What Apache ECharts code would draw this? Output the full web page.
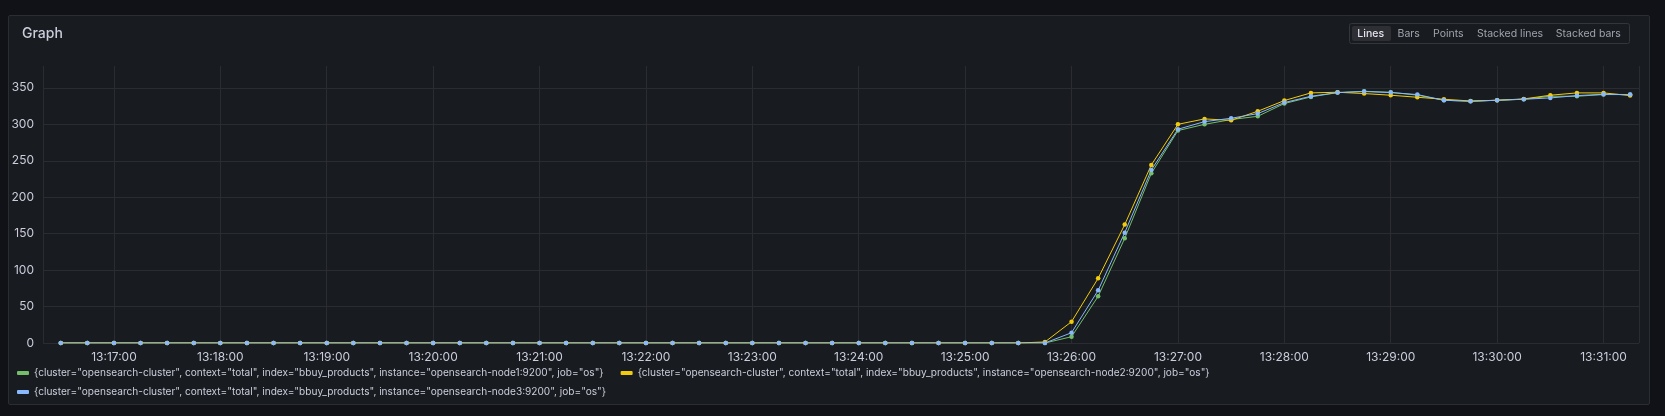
<!DOCTYPE html>
<html>
<head>
<meta charset="utf-8">
<script src="https://cdn.jsdelivr.net/npm/echarts@6/dist/echarts.min.js"></script>
<style>
  html, body { margin: 0; padding: 0; background: #111217; width: 1665px; height: 416px; overflow: hidden; }
  #panel { position: absolute; left: 8px; top: 15px; width: 1642px; height: 390px; background: #181b1f; border: 1px solid #2b2d33; border-radius: 2px; box-sizing: border-box; }
  #chart { position: absolute; left: 0; top: 0; width: 1665px; height: 416px; }
</style>
</head>
<body>
<div id="panel"></div>
<div id="chart"></div>
<script>
const panelTitle = 'Graph';
const viewModes = ['Lines', 'Bars', 'Points', 'Stacked lines', 'Stacked bars'];
const seriesNames = [
  '{cluster="opensearch-cluster", context="total", index="bbuy_products", instance="opensearch-node1:9200", job="os"}',
  '{cluster="opensearch-cluster", context="total", index="bbuy_products", instance="opensearch-node2:9200", job="os"}',
  '{cluster="opensearch-cluster", context="total", index="bbuy_products", instance="opensearch-node3:9200", job="os"}'
];
const times = [
  '13:16:30','13:16:45','13:17:00','13:17:15','13:17:30','13:17:45','13:18:00','13:18:15','13:18:30','13:18:45',
  '13:19:00','13:19:15','13:19:30','13:19:45','13:20:00','13:20:15','13:20:30','13:20:45','13:21:00','13:21:15',
  '13:21:30','13:21:45','13:22:00','13:22:15','13:22:30','13:22:45','13:23:00','13:23:15','13:23:30','13:23:45',
  '13:24:00','13:24:15','13:24:30','13:24:45','13:25:00','13:25:15','13:25:30','13:25:45','13:26:00','13:26:15',
  '13:26:30','13:26:45','13:27:00','13:27:15','13:27:30','13:27:45','13:28:00','13:28:15','13:28:30','13:28:45',
  '13:29:00','13:29:15','13:29:30','13:29:45','13:30:00','13:30:15','13:30:30','13:30:45','13:31:00','13:31:15'
];
const node1 = [
  0,0,0,0,0,0,0,0,0,0, 0,0,0,0,0,0,0,0,0,0, 0,0,0,0,0,0,0,0,0,0, 0,0,0,0,0,0,0,
  0,8.6,64,143.6,232.8,291.4,300,306.5,311,328.5,337.6,343.5,345.3,344,340,333,331.6,333,334.4,338.5,338.5,340.8,340.8
];
const node2 = [
  0,0,0,0,0,0,0,0,0,0, 0,0,0,0,0,0,0,0,0,0, 0,0,0,0,0,0,0,0,0,0, 0,0,0,0,0,0,0,
  1.4,29.2,88.7,162.4,244.3,300,307.4,305.5,317.9,332.6,343.1,344,342.2,339.9,337.1,334.4,332,333,334.8,339.9,343.1,343.1,339.4
];
const node3 = [
  0,0,0,0,0,0,0,0,0,0, 0,0,0,0,0,0,0,0,0,0, 0,0,0,0,0,0,0,0,0,0, 0,0,0,0,0,0,0,
  0,14.1,72.2,151.4,237.4,293.2,303.7,308.3,314.7,329.8,338.5,343.5,345,343.5,340.8,333,331.6,333,334.4,336.2,339.4,341.2,340.8
];
const xRange = ['13:16:20', '13:31:20'];
const yTicks = [0, 50, 100, 150, 200, 250, 300, 350];
const colors = ['#73BF69', '#F2CC0C', '#8AB8FF'];

function ts(s) {
  const p = s.split(':').map(Number);
  return new Date(2024, 0, 1, p[0], p[1], p[2]).getTime();
}
function pad(n) { return (n < 10 ? '0' : '') + n; }
function pairs(vals) { return times.map((t, i) => [ts(t), vals[i]]); }

const chart = echarts.init(document.getElementById('chart'), null, { renderer: 'canvas' });
const textColor = '#ccccdc';
const gridColor = '#2a2c31';
const fontFamily = 'Inter, "Noto Sans", sans-serif';

const modeCenters = [1370.7, 1408.7, 1448.3, 1510, 1588.3];
const graphics = [
  { type: 'text', left: 22, top: 27, style: { text: panelTitle, fill: textColor, font: '500 14px ' + fontFamily } },
  { type: 'rect', shape: { x: 1349.5, y: 23.5, width: 280, height: 20, r: 2 }, style: { fill: 'none', stroke: '#34363c', lineWidth: 1 } },
  { type: 'rect', shape: { x: 1352, y: 26, width: 39, height: 15, r: 2 }, style: { fill: '#2d2f35' } }
];
viewModes.forEach((m, i) => {
  graphics.push({ type: 'text', x: modeCenters[i], y: 33.5, style: { text: m, fill: i === 0 ? '#e4e4ee' : '#a0a3ad', font: (i === 0 ? '500 ' : '400 ') + '10.5px ' + fontFamily, align: 'center', verticalAlign: 'middle' } });
});

const legendText = { color: textColor, fontSize: 10.1, fontFamily: fontFamily, lineHeight: 14 };
const option = {
  animation: false,
  backgroundColor: 'transparent',
  color: colors,
  textStyle: { fontFamily: fontFamily },
  graphic: graphics,
  grid: { left: 43, right: 26, top: 66, bottom: 73, containLabel: false },
  xAxis: {
    type: 'time',
    min: ts(xRange[0]),
    max: ts(xRange[1]),
    minInterval: 60000,
    maxInterval: 60000,
    axisLine: { show: false },
    axisTick: { show: false },
    splitLine: { show: true, lineStyle: { color: gridColor, width: 1 } },
    axisLabel: {
      color: textColor, fontSize: 12, fontFamily: fontFamily, margin: 8,
      showMinLabel: false, showMaxLabel: false,
      formatter: function (v) { const d = new Date(v); return pad(d.getHours()) + ':' + pad(d.getMinutes()) + ':' + pad(d.getSeconds()); }
    }
  },
  yAxis: {
    type: 'value',
    min: yTicks[0],
    max: 380,
    interval: yTicks[1] - yTicks[0],
    axisLine: { show: false },
    axisTick: { show: false },
    splitLine: { show: true, showMaxLine: false, lineStyle: { color: gridColor, width: 1 } },
    axisLabel: { color: textColor, fontSize: 12, fontFamily: fontFamily, margin: 9, showMaxLabel: false }
  },
  legend: [
    {
      data: [seriesNames[0], seriesNames[1]],
      left: 17, top: 366, orient: 'horizontal',
      itemWidth: 12, itemHeight: 4, itemGap: 17, icon: 'roundRect', padding: 0,
      textStyle: legendText,
      selectedMode: false
    },
    {
      data: [seriesNames[2]],
      left: 17, top: 385, orient: 'horizontal',
      itemWidth: 12, itemHeight: 4, itemGap: 17, icon: 'roundRect', padding: 0,
      textStyle: legendText,
      selectedMode: false
    }
  ],
  series: [node1, node2, node3].map((vals, i) => ({
    name: seriesNames[i],
    type: 'line',
    data: pairs(vals),
    symbol: 'circle',
    symbolSize: 4.5,
    showSymbol: true,
    lineStyle: { width: 1, color: colors[i] },
    itemStyle: { color: colors[i] },
    emphasis: { disabled: true }
  }))
};
chart.setOption(option);
</script>
</body>
</html>
